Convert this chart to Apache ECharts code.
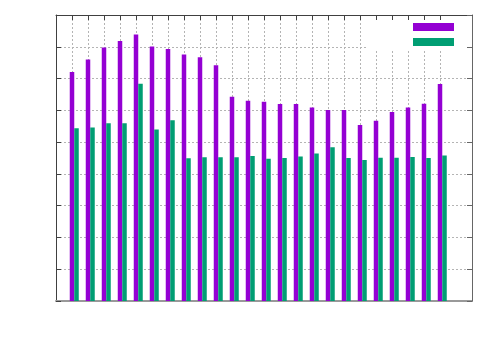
<!DOCTYPE html>
<html>
<head>
<meta charset="utf-8">
<script src="https://cdn.jsdelivr.net/npm/echarts@6/dist/echarts.min.js"></script>
<style>
html, body { margin: 0; padding: 0; background: #fff; }
#chart { width: 500px; height: 350px; }
</style>
</head>
<body>
<div id="chart"></div>
<script>
// 24 clusters, no tick labels in the original
const categories = ['1', '2', '3', '4', '5', '6', '7', '8', '9', '10', '11', '12',
	'13', '14', '15', '16', '17', '18', '19', '20', '21', '22', '23', '24']
const purpleValues = [7.21, 7.60, 7.98, 8.18, 8.39, 8.01, 7.93, 7.76, 7.67, 7.42, 6.43, 6.30,
	6.27, 6.20, 6.20, 6.09, 6.01, 6.01, 5.54, 5.67, 5.95, 6.09, 6.21, 6.83]
const greenValues = [5.44, 5.46, 5.59, 5.59, 6.84, 5.40, 5.69, 4.49, 4.52, 4.52, 4.52, 4.56,
	4.48, 4.50, 4.55, 4.64, 4.84, 4.50, 4.44, 4.51, 4.51, 4.53, 4.50, 4.58]
const yTicks = [0, 1, 2, 3, 4, 5, 6, 7, 8, 9]

// axis runs one slot before the first cluster and two after the last
const axisData = [''].concat(categories, ['', ''])
const pad = arr => [null].concat(arr, [null, null])
const inRange = idx => idx >= 1 && idx <= categories.length

const frame = '#404040'
const gridLine = { show: true, lineStyle: { color: '#b4b4b4', type: [2, 2], width: 1 } }

const chart = echarts.init(document.getElementById('chart'), null, { renderer: 'canvas' })

chart.setOption({
	animation: false,
	backgroundColor: '#fff',
	grid: { left: 56, top: 15, right: 28, bottom: 49 },
	legend: {
		data: ['purple', 'green'],
		orient: 'vertical',
		left: 367,
		top: 15,
		padding: [8, 12, 4, 46],
		itemWidth: 41,
		itemHeight: 8,
		itemGap: 7,
		icon: 'rect',
		backgroundColor: '#fff',
		formatter: () => '',
		z: 4
	},
	xAxis: [
		{
			type: 'category',
			data: axisData,
			boundaryGap: false,
			position: 'bottom',
			axisLine: { show: true, onZero: false, lineStyle: { color: '#999', width: 2 } },
			axisTick: { show: false },
			axisLabel: { show: false },
			splitLine: Object.assign({ interval: (i) => inRange(i) }, gridLine)
		},
		{
			type: 'category',
			data: axisData,
			boundaryGap: false,
			position: 'top',
			z: 10,
			axisLine: { show: true, onZero: false, lineStyle: { color: frame, width: 1 } },
			axisTick: { show: true, inside: true, length: 5, interval: (i) => inRange(i), lineStyle: { color: frame } },
			axisLabel: { show: false },
			splitLine: { show: false }
		}
	],
	yAxis: [
		{
			type: 'value',
			min: yTicks[0],
			max: yTicks[yTicks.length - 1],
			interval: 1,
			position: 'left',
			axisLine: { show: true, onZero: false, lineStyle: { color: frame, width: 1 } },
			axisTick: { show: true, inside: true, length: 5, lineStyle: { color: frame } },
			axisLabel: { show: false },
			splitLine: gridLine
		},
		{
			type: 'value',
			min: yTicks[0],
			max: yTicks[yTicks.length - 1],
			interval: 1,
			position: 'right',
			z: 10,
			axisLine: { show: true, onZero: false, lineStyle: { color: '#666', width: 1 } },
			axisTick: { show: true, inside: true, length: 5, lineStyle: { color: '#666' } },
			axisLabel: { show: false },
			splitLine: { show: false }
		}
	],
	series: [
		// empty spacer so the purple bar sits on the tick and green to its right
		{ name: 'spacer', type: 'bar', barWidth: 4.5, barGap: '0%', data: [] },
		{
			name: 'purple',
			type: 'bar',
			barWidth: 4.5,
			barGap: '0%',
			data: pad(purpleValues),
			itemStyle: { color: '#9400d3' }
		},
		{
			name: 'green',
			type: 'bar',
			barWidth: 4.5,
			barGap: '0%',
			data: pad(greenValues),
			itemStyle: { color: '#009e73' }
		}
	]
})
</script>
</body>
</html>
